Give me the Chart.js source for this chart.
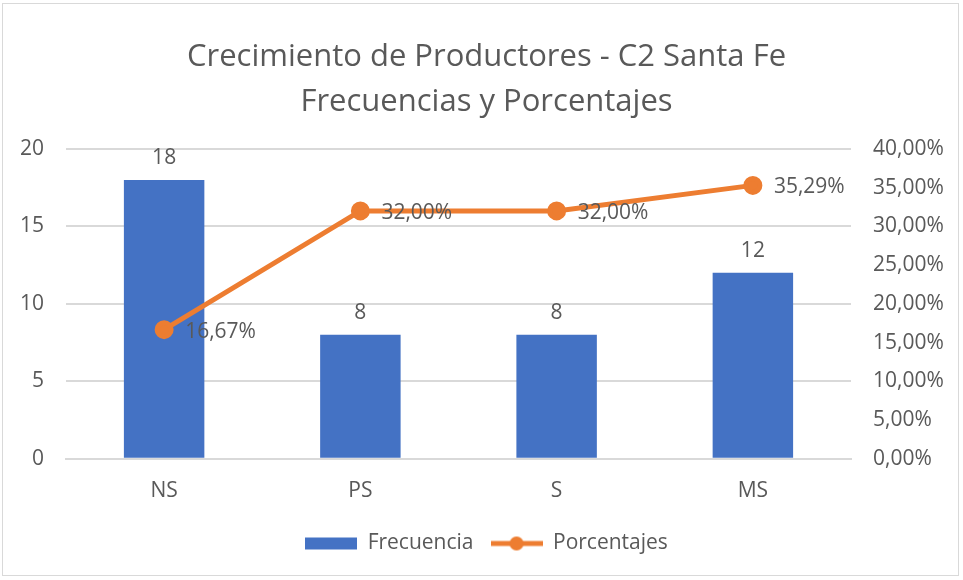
<!DOCTYPE html>
<html>
<head>
<meta charset="utf-8">
<script src="https://cdn.jsdelivr.net/npm/chart.js@4/dist/chart.umd.min.js"></script>
<style>
  html, body { margin:0; padding:0; background:#fff; }
  #wrap { position:absolute; left:2px; top:3px; width:957px; height:573px; border:1px solid #D9D9D9; box-sizing:border-box; }
</style>
</head>
<body>
<div id="wrap"><canvas id="myChart"></canvas></div>
<script>
const categorias = ["NS", "PS", "S", "MS"]
const frecuencias = [18, 8, 8, 12]
const porcentajes = [16.67, 32.00, 32.00, 35.29]
const tituloLineas = ["Crecimiento de Productores - C2 Santa Fe", "Frecuencias y Porcentajes"]

const azul = "#4472C4"
const naranja = "#ED7D31"
const gris = "#595959"
const FONT = "'Open Sans', sans-serif"
const FS = 21

function fmtPct(v) {
  return v.toFixed(2).replace('.', ',') + '%'
}

// little images for the legend (excel style)
function legendImg(tipo) {
  const c = document.createElement('canvas')
  c.width = 52; c.height = 16
  const g = c.getContext('2d')
  if (tipo == 'bar') {
    g.fillStyle = azul
    g.fillRect(0, 2, 52, 12)
  } else {
    g.strokeStyle = naranja
    g.lineWidth = 5
    g.beginPath(); g.moveTo(0, 8); g.lineTo(52, 8); g.stroke()
    g.fillStyle = naranja
    g.beginPath(); g.arc(26, 8, 7, 0, Math.PI * 2); g.fill()
  }
  return c
}

/* etiquetas de datos */
const etiquetas = {
  id: 'etiquetas',
  afterDatasetsDraw(chart) {
    const ctx = chart.ctx
    ctx.save()
    ctx.font = FS + "px " + FONT
    ctx.fillStyle = gris
    chart.getDatasetMeta(0).data.forEach((bar, i) => {
      ctx.textAlign = 'center'
      ctx.textBaseline = 'bottom'
      ctx.fillText(frecuencias[i], bar.x, bar.y - 11)
    })
    chart.getDatasetMeta(1).data.forEach((pt, i) => {
      ctx.textAlign = 'left'
      ctx.textBaseline = 'middle'
      ctx.fillText(fmtPct(porcentajes[i]), pt.x + 21, pt.y + 2)
    })
    ctx.restore()
  }
}

new Chart("myChart", {
  data: {
    labels: categorias,
    datasets: [{
      type: 'bar',
      label: 'Frecuencia',
      data: frecuencias,
      backgroundColor: azul,
      yAxisID: 'y',
      categoryPercentage: 1,
      barPercentage: 0.41,
      order: 2
    }, {
      type: 'line',
      label: 'Porcentajes',
      data: porcentajes,
      borderColor: naranja,
      backgroundColor: naranja,
      borderWidth: 5,
      pointRadius: 7,
      pointHoverRadius: 7,
      yAxisID: 'y1',
      order: 1
    }]
  },
  options: {
    responsive: true,
    maintainAspectRatio: false,
    animation: false,
    layout: { padding: { left: 12, right: 0, top: 31, bottom: 11 } },
    plugins: {
      title: {
        display: true,
        text: tituloLineas,
        color: gris,
        font: { family: FONT, size: 31, weight: 'normal', lineHeight: 1.45 },
        padding: { top: 0, bottom: 24 }
      },
      legend: {
        position: 'bottom',
        labels: {
          color: gris,
          font: { family: FONT, size: FS },
          usePointStyle: true,
          pointStyleWidth: 52,
          boxHeight: 16,
          padding: 17,
          generateLabels(chart) {
            return chart.data.datasets.map((ds, i) => ({
              text: ds.label,
              fontColor: gris,
              pointStyle: legendImg(ds.type),
              datasetIndex: i,
              lineWidth: 0,
              strokeStyle: 'transparent'
            }))
          }
        }
      },
      tooltip: { enabled: false }
    },
    scales: {
      x: {
        grid: { display: false },
        border: { color: '#D9D9D9', width: 2 },
        ticks: { color: gris, font: { family: FONT, size: FS }, padding: 12 }
      },
      y: {
        position: 'left',
        min: 0, max: 20,
        afterFit: s => { s.width = 51 },
        ticks: { stepSize: 5, color: gris, font: { family: FONT, size: FS }, padding: 22 },
        grid: { color: '#D9D9D9', lineWidth: 2, drawTicks: false },
        border: { display: false }
      },
      y1: {
        position: 'right',
        min: 0, max: 40,
        afterFit: s => { s.width = 107 },
        ticks: { stepSize: 5, color: gris, font: { family: FONT, size: FS }, padding: 22,
          callback: v => fmtPct(v) },
        grid: { display: false, drawTicks: false },
        border: { display: false }
      }
    }
  },
  plugins: [etiquetas]
});
</script>
</body>
</html>
